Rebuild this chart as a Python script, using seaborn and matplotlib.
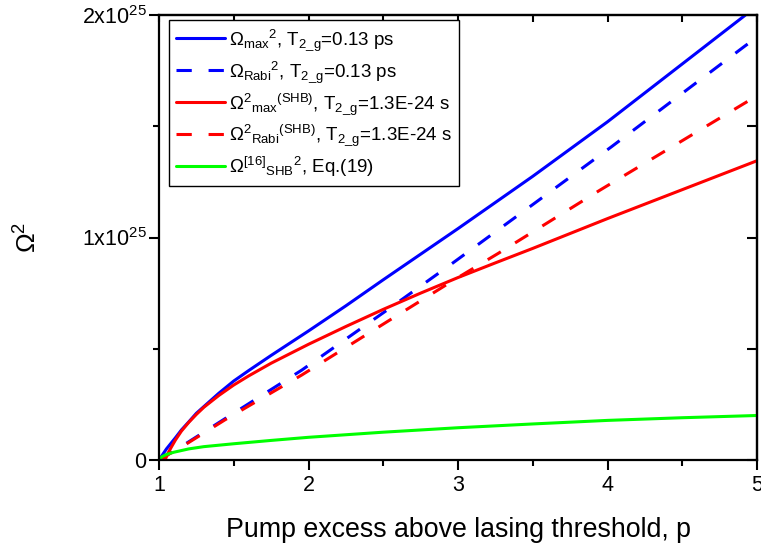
import matplotlib
matplotlib.use("Agg")
import matplotlib.pyplot as plt
import seaborn as sns
import numpy as np

# Omega^2 curves versus pump excess p (values in units of 1e25)
UNIT = 1e25

p_max = [1.0, 1.02, 1.05, 1.08, 1.11, 1.15, 1.2, 1.25, 1.3, 1.4, 1.5, 1.6, 1.75,
         2.0, 2.25, 2.5, 2.75, 3.0, 3.5, 4.0, 4.5, 5.0]
v_max = [0.0, 0.02, 0.05, 0.075, 0.1, 0.135, 0.172, 0.21, 0.24, 0.3, 0.355, 0.402, 0.47,
         0.58, 0.693, 0.81, 0.925, 1.04, 1.275, 1.52, 1.78, 2.04]

p_rabi = [1.0, 1.19, 1.44, 1.955, 2.545, 2.946, 3.5, 4.027, 4.5, 4.92, 5.0]
v_rabi = [0.0, 0.078, 0.185, 0.404, 0.683, 0.876, 1.148, 1.408, 1.648, 1.861, 1.90]

p_max_shb = [1.0, 1.04, 1.06, 1.08, 1.11, 1.15, 1.2, 1.25, 1.3, 1.4, 1.5, 1.6, 1.75,
             2.0, 2.25, 2.5, 2.75, 3.0, 3.25, 3.5, 4.0, 4.5, 5.0]
v_max_shb = [0.0, 0.0, 0.03, 0.055, 0.09, 0.13, 0.17, 0.205, 0.237, 0.29, 0.337, 0.378, 0.435,
             0.52, 0.6, 0.677, 0.75, 0.82, 0.886, 0.951, 1.085, 1.215, 1.345]

p_rabi_shb = [1.0, 1.19, 1.44, 1.955, 2.565, 2.99, 3.27, 3.95, 4.908, 5.0]
v_rabi_shb = [0.0, 0.075, 0.18, 0.382, 0.638, 0.816, 0.929, 1.213, 1.6, 1.637]

p_ref16 = [1.0, 1.02, 1.05, 1.1, 1.2, 1.3, 1.5, 1.75, 2.0, 2.5, 3.0, 3.5, 4.0, 4.5, 5.0]
v_ref16 = [0.0, 0.015, 0.025, 0.035, 0.05, 0.06, 0.073, 0.088, 0.102, 0.125, 0.145,
           0.162, 0.178, 0.19, 0.2]

x_ticks = [1, 2, 3, 4, 5]
y_ticks = [0, 1, 2]
y_tick_labels = ["0", "1x10$^{25}$", "2x10$^{25}$"]

labels = [
    r"$\Omega_{max}{}^{2}$, T$_{2\_g}$=0.13 ps",
    r"$\Omega_{Rabi}{}^{2}$, T$_{2\_g}$=0.13 ps",
    r"$\Omega^{2}{}_{max}{}^{(SHB)}$, T$_{2\_g}$=1.3E-24 s",
    r"$\Omega^{2}{}_{Rabi}{}^{(SHB)}$, T$_{2\_g}$=1.3E-24 s",
    r"$\Omega^{[16]}{}_{SHB}{}^{2}$, Eq.(19)",
]

sns.set_style("ticks")
plt.rcParams["font.family"] = ["Liberation Sans", "DejaVu Sans"]
plt.rcParams["mathtext.fontset"] = "custom"
plt.rcParams["mathtext.rm"] = "Liberation Sans"
plt.rcParams["mathtext.it"] = "Liberation Sans:italic"
plt.rcParams["mathtext.default"] = "regular"
plt.rcParams["text.color"] = "black"
plt.rcParams["axes.labelcolor"] = "black"

fig = plt.figure(figsize=(7.61, 5.44), dpi=100)
ax = fig.add_axes([159 / 761, 84 / 544, 598 / 761, 445 / 544])

series = [
    (p_max, v_max, "#0000ff", "-"),
    (p_rabi, v_rabi, "#0000ff", "--"),
    (p_max_shb, v_max_shb, "#ff0000", "-"),
    (p_rabi_shb, v_rabi_shb, "#ff0000", "--"),
    (p_ref16, v_ref16, "#00ff00", "-"),
]

for (px, pv, col, ls), lab in zip(series, labels):
    sns.lineplot(x=np.array(px), y=np.array(pv) * UNIT, ax=ax, color=col,
                 linewidth=2.2, label=lab, linestyle=ls)

for line in ax.get_lines():
    line.set_solid_joinstyle("round")
    if line.get_linestyle() == "--":
        line.set_dashes((5, 5.5))

ax.set_xlim(1, 5)
ax.set_ylim(0, 2 * UNIT)
ax.set_xticks(x_ticks)
ax.set_xticks(np.arange(1.5, 5, 1.0), minor=True)
ax.set_yticks([t * UNIT for t in y_ticks])
ax.set_yticklabels(y_tick_labels)
ax.set_yticks([0.5 * UNIT, 1.5 * UNIT], minor=True)

ax.tick_params(axis="both", which="major", direction="out", length=7, width=1.5,
               labelsize=15.5, colors="black")
ax.tick_params(axis="both", which="minor", direction="out", length=4.5, width=1.5,
               colors="black")
ax.tick_params(axis="x", pad=4)
ax.tick_params(axis="y", pad=2)

for s in ax.spines.values():
    s.set_linewidth(1.6)
    s.set_color("black")

# inward ticks on the opposite axes, no labels
top = ax.secondary_xaxis("top")
top.set_xticks(np.arange(1, 5.01, 0.5))
top.tick_params(direction="in", length=5, width=1.5, labeltop=False, colors="black")
top.spines["top"].set_linewidth(1.6)
right = ax.secondary_yaxis("right")
right.set_yticks([t * UNIT for t in [0, 0.5, 1, 1.5, 2]])
right.tick_params(direction="in", length=7, width=1.5, labelright=False, colors="black")
right.spines["right"].set_linewidth(1.6)

ax.set_xlabel("Pump excess above lasing threshold, p", fontsize=19.3, color="black")
ax.xaxis.set_label_coords(0.5, -0.127)
ax.xaxis.label.set_va("top")
ax.set_ylabel(r"$\Omega^{2}$", fontsize=19, color="black")
ax.yaxis.set_label_coords(-0.196, 0.5)

leg = ax.legend(loc="upper left", bbox_to_anchor=(0.016, 0.989), fontsize=13.5,
                frameon=True, fancybox=False, edgecolor="black", framealpha=1,
                handlelength=2.6, handletextpad=0.2, labelspacing=0.33,
                borderpad=0.4, borderaxespad=0)
leg.get_frame().set_linewidth(1.0)
for t in leg.get_texts():
    t.set_color("black")

fig.savefig("out.png", dpi=100)
